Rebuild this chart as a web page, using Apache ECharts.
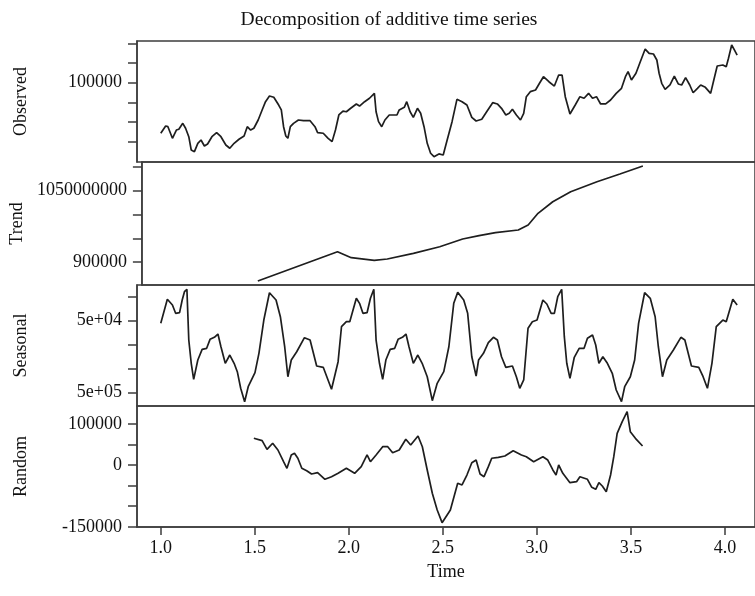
<!DOCTYPE html>
<html>
<head>
<meta charset="utf-8">
<script src="https://cdn.jsdelivr.net/npm/echarts@6/dist/echarts.min.js"></script>
<style>
html,body{margin:0;padding:0;background:#fff;}
#chart{width:755px;height:596px;}
</style>
</head>
<body>
<div id="chart"></div>
<script>
// ---------- data (time in years) ----------
var obsT = [1.000,1.026,1.038,1.062,1.083,1.096,1.117,1.132,1.149,1.162,1.179,1.197,1.214,1.232,1.249,1.272,1.297,1.320,1.346,1.367,1.390,1.416,1.443,1.460,1.478,1.495,1.518,1.539,1.557,1.578,1.601,1.627,1.641,1.653,1.665,1.676,1.689,1.706,1.732,1.759,1.794,1.820,1.834,1.864,1.890,1.911,1.929,1.947,1.969,1.987,2.010,2.040,2.057,2.084,2.110,2.136,2.145,2.158,2.175,2.192,2.215,2.242,2.256,2.268,2.295,2.308,2.326,2.343,2.365,2.382,2.400,2.417,2.435,2.453,2.479,2.502,2.523,2.549,2.575,2.602,2.628,2.654,2.677,2.707,2.733,2.765,2.790,2.812,2.835,2.853,2.870,2.891,2.913,2.930,2.944,2.965,2.993,3.014,3.035,3.064,3.093,3.116,3.134,3.151,3.176,3.204,3.229,3.251,3.275,3.296,3.317,3.339,3.366,3.392,3.422,3.450,3.471,3.485,3.503,3.527,3.550,3.576,3.597,3.620,3.638,3.650,3.664,3.682,3.708,3.731,3.752,3.770,3.791,3.813,3.831,3.854,3.871,3.896,3.924,3.941,3.959,3.989,4.007,4.019,4.036,4.051,4.065];
var obsV = [48600,56000,55300,43500,51900,52700,58700,53700,45100,31600,29900,38400,41800,35700,37700,45100,49200,45100,36700,33400,38400,42500,45800,55300,51900,53700,62100,72300,80700,86500,85200,77300,72300,55300,45800,43500,55300,58700,62100,61400,61400,55300,49200,48600,43500,40100,51900,67200,71200,70500,74000,78400,76300,80700,84200,89200,70500,60400,55300,62100,67200,67200,67200,72300,75000,80700,70500,64800,74000,68900,55300,38400,28300,24800,27600,26500,41800,60400,83100,80700,77300,64800,61100,62800,70500,79700,78400,74000,67200,68900,73000,67200,62100,68900,85800,90900,92600,99400,106100,101000,96600,107800,107800,85800,68200,77300,85800,84200,89200,84200,85800,78400,78400,82400,89200,94300,106100,111200,102700,109600,121300,134200,129900,129200,123100,109600,99400,93300,97700,106800,98700,97700,105100,97700,89800,94300,97700,95300,89200,102700,117000,118000,116300,124800,138300,133200,128100];

var trendT = [1.495,1.922,1.996,2.119,2.189,2.329,2.470,2.593,2.681,2.769,2.891,2.944,2.997,3.076,3.172,3.313,3.436,3.559];
var trendV = [860000,921700,909100,903600,906300,918300,932200,948400,955400,961700,967400,977900,1002500,1026900,1048000,1069000,1085200,1102100];

var seasT = [1.000,1.035,1.062,1.079,1.100,1.114,1.126,1.139,1.149,1.162,1.175,1.197,1.220,1.244,1.262,1.285,1.304,1.320,1.343,1.367,1.390,1.407,1.425,1.446,1.465,1.501,1.522,1.548,1.578,1.613,1.636,1.659,1.676,1.694,1.723,1.764,1.794,1.829,1.864,1.908,1.943,1.961,1.987,2.005,2.040,2.057,2.075,2.097,2.115,2.133,2.145,2.163,2.180,2.197,2.220,2.244,2.262,2.285,2.304,2.320,2.343,2.367,2.390,2.407,2.417,2.444,2.470,2.505,2.532,2.558,2.579,2.611,2.632,2.654,2.677,2.690,2.716,2.742,2.769,2.790,2.812,2.835,2.870,2.891,2.909,2.930,2.953,2.976,3.001,3.032,3.053,3.076,3.093,3.111,3.132,3.146,3.159,3.176,3.199,3.225,3.251,3.269,3.296,3.313,3.330,3.351,3.375,3.401,3.422,3.450,3.467,3.497,3.520,3.541,3.573,3.603,3.629,3.646,3.668,3.691,3.726,3.766,3.787,3.822,3.861,3.884,3.907,3.931,3.954,3.989,4.007,4.042,4.065];
var seasV = [44600,94600,82700,65400,66700,93100,110400,115400,9800,-38700,-72100,-31900,-9600,-7500,11200,15400,22300,-4200,-38700,-21500,-38700,-56200,-90800,-118700,-87500,-58300,-17900,51400,108300,93100,58300,-4200,-66700,-31900,-14600,14600,9800,-44400,-47100,-92900,-35400,37500,47900,47900,96700,86200,65400,66700,96700,115400,9800,-38700,-72100,-31900,-9600,-7500,11200,15400,22300,-4200,-38700,-21500,-38700,-56200,-66700,-116600,-80400,-56200,-4200,86200,109100,93100,65400,-25000,-65200,-31900,-17900,4200,15400,9800,-25000,-47100,-44400,-66700,-90800,-73500,34200,47900,51400,93100,84800,65400,65400,100000,115400,16700,-38700,-70000,-26200,-7500,-7500,13300,20200,-600,-38700,-25000,-38700,-59600,-94400,-118700,-87500,-66700,-31900,44600,108300,96700,58300,-4200,-66700,-31900,-11000,15400,9800,-44400,-47100,-66700,-90800,-38700,37500,51400,47900,94600,82700];

var randT = [1.495,1.539,1.565,1.595,1.623,1.653,1.671,1.694,1.711,1.729,1.750,1.776,1.802,1.834,1.873,1.908,1.943,1.987,2.031,2.066,2.097,2.115,2.145,2.180,2.207,2.233,2.268,2.303,2.329,2.368,2.391,2.417,2.444,2.470,2.496,2.540,2.579,2.602,2.628,2.654,2.677,2.698,2.719,2.742,2.760,2.795,2.830,2.874,2.918,2.944,2.983,3.032,3.058,3.085,3.102,3.116,3.138,3.176,3.211,3.229,3.269,3.292,3.313,3.330,3.348,3.369,3.392,3.409,3.427,3.454,3.480,3.497,3.524,3.562];
var randV = [64800,59000,38100,52700,36400,8000,-8000,24300,28400,16300,-8000,-13800,-21800,-18700,-34700,-28400,-20100,-8000,-20100,-4100,24300,8000,24300,44400,44400,29900,36400,62400,48500,70400,44400,-12100,-68700,-109200,-140000,-109200,-44400,-48500,-24300,5600,12100,-21800,-28400,-4100,16300,18700,21800,34700,24300,20100,8000,20100,12100,-12100,-24300,0,-20100,-43000,-40500,-28400,-34700,-54100,-59000,-43000,-51000,-64800,-24300,20100,76900,105100,129400,80800,64800,46100];

// ---------- ticks / labels ----------
var xTicks = [1.0,1.5,2.0,2.5,3.0,3.5,4.0];
var obsTicks = [40000,60000,80000,100000,120000,140000];
var obsLabels = {100000:'100000'};
var trendTicks = [900000,950000,1000000,1050000,1100000];
var trendLabels = {900000:'900000',1050000:'1050000000'};
var seasTicks = [-100000,-50000,0,50000,100000];
var seasLabels = {50000:'5e+04','-100000':'5e+05'};
var randTicks = [-150000,-100000,-50000,0,50000,100000];
var randLabels = {100000:'100000',0:'0','-150000':'-150000'};
var panelNames = ['Observed','Trend','Seasonal','Random'];
var titleText = 'Decomposition of additive time series';
var xName = 'Time';

// ---------- layout ----------
var FONT = "'Liberation Serif','Times New Roman',serif";
var INK = '#1e1e1e';
var FRAME = '#3c3c3c';
var FS = 18;
var grids = [
  {top:41, height:121},
  {top:162, height:123},
  {top:285, height:121},
  {top:406, height:121}
];
var yRanges = [
  [19400,142400],
  [851600,1110500],
  [-127700,124400],
  [-150500,143200]
];
var yTicks = [obsTicks, trendTicks, seasTicks, randTicks];
var yLabels = [obsLabels, trendLabels, seasLabels, randLabels];
var seriesT = [obsT, trendT, seasT, randT];
var seriesV = [obsV, trendV, seasV, randV];

function zip(a,b){var r=[];for(var i=0;i<a.length;i++)r.push([a[i],b[i]]);return r;}

var option = {
  animation:false,
  backgroundColor:'#fff',
  title:{text:titleText,left:384,top:5,textAlign:'center',
    textStyle:{fontFamily:FONT,fontSize:19.5,fontWeight:'normal',color:'#111'}},
  grid: grids.map(function(g){return {left:137,right:-6,top:g.top,height:g.height,show:true,
    borderColor:FRAME,borderWidth:1.5,backgroundColor:'transparent'};}),
  xAxis: grids.map(function(g,i){
    var last = i===3;
    return {type:'value',gridIndex:i,min:0.8736,max:4.16,
      splitLine:{show:false},
      axisLine:{show:last,onZero:false,lineStyle:{color:FRAME,width:1.5}},
      axisTick:{show:last,length:8,customValues:xTicks,lineStyle:{color:FRAME,width:1.5}},
      axisLabel:{show:last,customValues:xTicks,margin:12,fontFamily:FONT,fontSize:FS,color:'#111',
        formatter:function(v){return v.toFixed(1);}},
      name:last?xName:'',nameLocation:'middle',nameGap:36,
      nameTextStyle:{fontFamily:FONT,fontSize:FS,color:'#111'}
    };}),
  yAxis: grids.map(function(g,i){
    return {type:'value',gridIndex:i,min:yRanges[i][0],max:yRanges[i][1],
      splitLine:{show:false},
      axisLine:{show:true,lineStyle:{color:FRAME,width:1.5}},
      axisTick:{show:true,length:9,customValues:yTicks[i],lineStyle:{color:FRAME,width:1.5}},
      axisLabel:{show:true,customValues:Object.keys(yLabels[i]).map(Number),margin:15,
        fontFamily:FONT,fontSize:FS,color:'#111',
        formatter:(function(map){return function(v){return map[v]!==undefined?map[v]:'';};})(yLabels[i])},
      name:panelNames[i],nameLocation:'middle',nameRotate:90,nameGap:107,
      nameTextStyle:{fontFamily:FONT,fontSize:FS,color:'#111'}
    };}),
  series: seriesT.map(function(t,i){
    return {type:'line',xAxisIndex:i,yAxisIndex:i,data:zip(t,seriesV[i]),
      showSymbol:false,symbol:'none',lineStyle:{color:INK,width:1.7},silent:true};
  })
};
var chart = echarts.init(document.getElementById('chart'),null,{renderer:'canvas'});
chart.setOption(option);
</script>
</body>
</html>
